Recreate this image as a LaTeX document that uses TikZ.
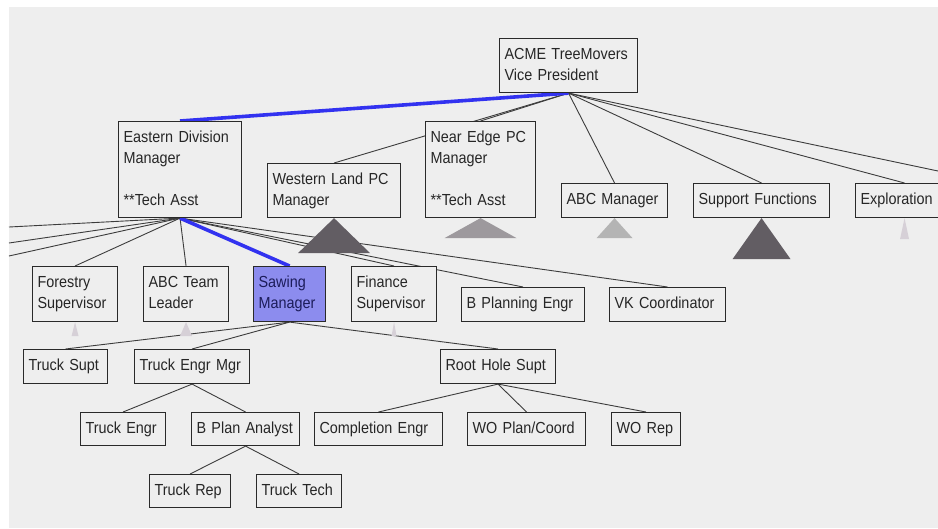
\documentclass[tikz,border=0pt]{standalone}
\usepackage{fontspec}
\setmainfont{Liberation Sans}[FakeStretch=0.9]
\usepackage{xcolor}
\usepackage{tikz}
\usetikzlibrary{positioning}

\definecolor{canvas}{HTML}{EEEEEE}
\definecolor{boxline}{HTML}{2A2A2A}
\definecolor{linkgray}{HTML}{3C3C3C}
\definecolor{pathblue}{HTML}{3232F0}
\definecolor{selfill}{HTML}{8C8CEE}
\definecolor{seltext}{HTML}{1C1C5A}
\definecolor{tridark}{HTML}{625D63}
\definecolor{trimid}{HTML}{9D999D}
\definecolor{trilight}{HTML}{B4B4B4}
\definecolor{tripale}{HTML}{D6D0D7}

\pgfdeclarelayer{paper}
\pgfdeclarelayer{links}
\pgfsetlayers{paper,links,main}

\begin{document}
\begin{tikzpicture}[x=1pt, y=-1pt,
  unit/.style={draw=boxline, line width=1.1pt, fill=canvas, anchor=north west,
    align=left, inner xsep=5pt, inner ysep=0pt, text=black!85,
    execute at begin node={\rule{0pt}{11.5pt}},
    execute at end node={\rule[-3.5pt]{0pt}{3.5pt}},
    font=\fontsize{16}{21}\selectfont},
  link/.style={draw=linkgray, line width=0.9pt},
  path/.style={draw=pathblue, line width=3.6pt}]
\useasboundingbox (0,0) rectangle (938,528);
\clip (0,0) rectangle (938,528);

\begin{pgfonlayer}{paper}
\fill[white] (0,0) rectangle (938,528);
\fill[canvas] (9,7) rectangle (938,528);
\end{pgfonlayer}

% top level
\node[unit, text width=128pt, minimum height=54pt] (vp) at (499,38) {ACME TreeMovers\\Vice President};

% division level
\node[unit, text width=113pt, minimum height=96pt] (east) at (118,121) {Eastern Division\\Manager\\[21pt]**Tech Asst};
\node[unit, text width=123pt, minimum height=54pt] (west) at (267,163) {Western Land PC\\Manager};
\node[unit, text width=100pt, minimum height=96pt] (near) at (425,121) {Near Edge PC\\Manager\\[21pt]**Tech Asst};
\node[unit, text width=96pt, minimum height=34pt] (abcmgr) at (561,183) {ABC Manager};
\node[unit, text width=126pt, minimum height=34pt] (support) at (693,183) {Support Functions};
\node[unit, text width=88pt, minimum height=34pt] (explore) at (855,183) {Exploration};

% under eastern division
\node[unit, text width=75pt, minimum height=55pt] (forestry) at (32,266) {Forestry\\Supervisor};
\node[unit, text width=75pt, minimum height=55pt] (abcteam) at (143,266) {ABC Team\\Leader};
\node[unit, text width=62pt, minimum height=55pt, fill=selfill, text=seltext] (sawing) at (253,266) {Sawing\\Manager};
\node[unit, text width=75pt, minimum height=55pt] (finance) at (351,266) {Finance\\Supervisor};
\node[unit, text width=113pt, minimum height=34pt] (bplanning) at (461,287) {B Planning Engr};
\node[unit, text width=106pt, minimum height=34pt] (vkcoord) at (609,287) {VK Coordinator};

% under sawing manager
\node[unit, text width=74pt, minimum height=34pt] (trucksupt) at (23,349) {Truck Supt};
\node[unit, text width=105pt, minimum height=34pt] (truckmgr) at (134,349) {Truck Engr Mgr};
\node[unit, text width=105pt, minimum height=34pt] (roothole) at (440,349) {Root Hole Supt};

\node[unit, text width=75pt, minimum height=33pt] (truckengr) at (80,412) {Truck Engr};
\node[unit, text width=98pt, minimum height=33pt] (bplanalyst) at (191,412) {B Plan Analyst};
\node[unit, text width=118pt, minimum height=33pt] (completion) at (314,412) {Completion Engr};
\node[unit, text width=108pt, minimum height=33pt] (woplan) at (467,412) {WO Plan/Coord};
\node[unit, text width=59pt, minimum height=33pt] (worep) at (611,412) {WO Rep};

\node[unit, text width=71pt, minimum height=33pt] (truckrep) at (149,474) {Truck Rep};
\node[unit, text width=75pt, minimum height=33pt] (trucktech) at (256,474) {Truck Tech};

% ends of links that leave the picture
\coordinate (outright) at (938,171);
\coordinate (outleft1) at (9,227);
\coordinate (outleft2) at (9,243);
\coordinate (outleft3) at (9,256);

% collapsed subtrees
\foreach \n/\w/\h/\c in {west/36/35/tridark, near/36/20/trimid, abcmgr/18/20/trilight,
    support/29/41/tridark, explore/4.5/21/tripale, forestry/3.5/14/tripale,
    abcteam/6/14/tripale, finance/2.5/14/tripale}
  \fill[\c] (\n.south) -- ++(-\w,\h) -- ++(2*\w,0) -- cycle;

\begin{pgfonlayer}{links}
\foreach \k in {west,near,abcmgr,support,explore,outright}
  \draw[link] (vp.south) -- (\k.north);
\foreach \k in {outleft1,outleft2,outleft3}
  \draw[link] (east.south) -- (\k);
\foreach \k in {forestry,abcteam,finance,bplanning,vkcoord}
  \draw[link] (east.south) -- (\k.north);
\foreach \k in {trucksupt,truckmgr,roothole}
  \draw[link] (sawing.south) -- (\k.north);
\foreach \k in {truckengr,bplanalyst}
  \draw[link] (truckmgr.south) -- (\k.north);
\foreach \k in {completion,woplan,worep}
  \draw[link] (roothole.south) -- (\k.north);
\foreach \k in {truckrep,trucktech}
  \draw[link] (bplanalyst.south) -- (\k.north);
\draw[path] (vp.south) -- (east.north);
\draw[path] (east.south) -- (sawing.north);
\end{pgfonlayer}

\end{tikzpicture}
\end{document}
